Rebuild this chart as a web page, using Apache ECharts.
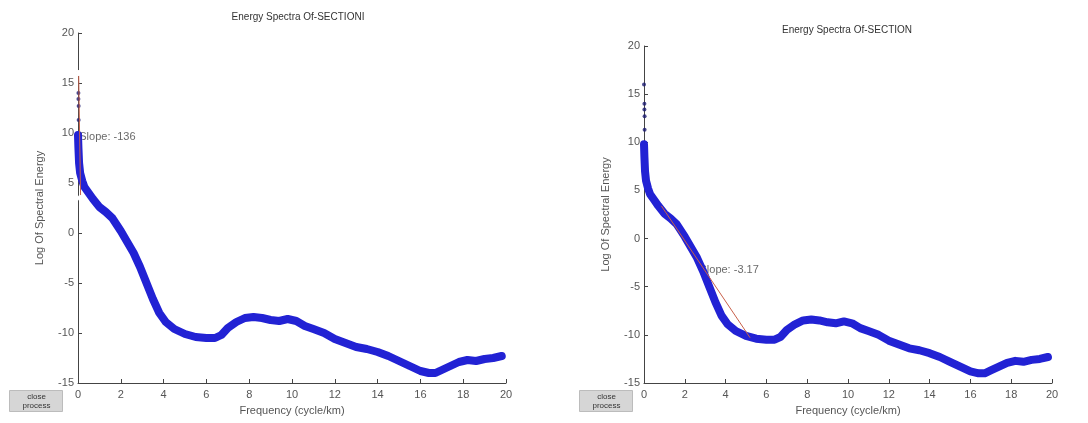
<!DOCTYPE html>
<html>
<head>
<meta charset="utf-8">
<script src="https://cdn.jsdelivr.net/npm/echarts@6/dist/echarts.min.js"></script>
<style>
  html, body { margin: 0; padding: 0; background: #fff; }
  #main { width: 1088px; height: 423px; }
</style>
</head>
<body>
<div id="main"></div>
<script>
// spectrum (same curve in both panels)
var freq = [0, 0.02, 0.05, 0.1, 0.2, 0.3, 0.5, 0.7, 1.0, 1.3, 1.6, 2.0, 2.3, 2.6, 2.9, 3.2, 3.5, 3.8, 4.1, 4.5,
            5.0, 5.5, 6.0, 6.4, 6.7, 7.0, 7.4, 7.8, 8.2, 8.6, 9.0, 9.4, 9.8, 10.2, 10.6, 11.0, 11.5, 12.0, 12.5, 13.0,
            13.5, 14.0, 14.5, 15.0, 15.5, 16.0, 16.4, 16.7, 17.0, 17.4, 17.8, 18.2, 18.6, 19.0, 19.4, 19.8];
var energy = [9.8, 8.5, 7.0, 6.0, 5.2, 4.6, 4.0, 3.4, 2.6, 2.1, 1.5, 0.2, -0.9, -2.0, -3.4, -5.0, -6.6, -8.0, -8.9, -9.6,
              -10.1, -10.4, -10.5, -10.5, -10.2, -9.5, -8.9, -8.5, -8.4, -8.5, -8.7, -8.8, -8.6, -8.8, -9.3, -9.6, -10.0, -10.6, -11.0, -11.4,
              -11.6, -11.9, -12.3, -12.8, -13.3, -13.8, -14.0, -14.0, -13.7, -13.3, -12.9, -12.7, -12.8, -12.6, -12.5, -12.3];
// sparse low-frequency points above the curve
var spikeFreq = [0.0, 0.02, 0.02, 0.03, 0.03];
var spikeEnergy = [16.0, 14.0, 13.4, 12.7, 11.3];

// fitted slope segments
var fit1Freq = [0.03, 0.122];
var fit1Energy = [16.0, 3.5];
var fit2Freq = [0.85, 5.2];
var fit2Energy = [3.4, -10.3];

var titles = ['Energy Spectra Of-SECTIONI', 'Energy Spectra Of-SECTION'];
var slopeText = ['Slope: -136', 'Slope: -3.17'];
var slopeAt = [[0.06, 9.6], [2.72, -3.3]];

var xTicks = { min: 0, max: 20, interval: 2 };
var yTicks = { min: -15, max: 20, interval: 5 };

function pairs(xs, ys) {
    return xs.map(function (x, i) { return [x, ys[i]]; });
}

var myChart = echarts.init(document.getElementById('main'));

var grids = [
    { left: 78, top: 33, width: 428, height: 350 },
    { left: 644, top: 46, width: 408, height: 337 }
];
var axisColor = '#444';
var labelStyle = { color: '#555', fontSize: 11, fontFamily: 'Liberation Sans, Arial, sans-serif' };

var xAxes = [], yAxes = [], series = [];
grids.forEach(function (g, k) {
    xAxes.push({
        gridIndex: k, type: 'value', min: xTicks.min, max: xTicks.max, interval: xTicks.interval,
        name: 'Frequency (cycle/km)', nameLocation: 'middle', nameGap: 22,
        nameTextStyle: labelStyle,
        axisLine: { onZero: false, lineStyle: { color: axisColor, width: 1 } },
        axisTick: { inside: true, length: 4, lineStyle: { color: axisColor } },
        axisLabel: Object.assign({ margin: 6 }, labelStyle),
        splitLine: { show: false }
    });
    yAxes.push({
        gridIndex: k, type: 'value', min: yTicks.min, max: yTicks.max, interval: yTicks.interval,
        name: 'Log Of Spectral Energy', nameLocation: 'middle', nameGap: 33, nameRotate: 90,
        nameTextStyle: labelStyle,
        axisLine: { show: true, onZero: false, lineStyle: { color: axisColor, width: 1 } },
        axisTick: { show: true, inside: true, length: 4, lineStyle: { color: axisColor } },
        axisLabel: Object.assign({ margin: 4 }, labelStyle),
        splitLine: { show: false }
    });
    // annotation text, drawn beneath the curve
    series.push({
        type: 'scatter', xAxisIndex: k, yAxisIndex: k, z: 1, symbolSize: 0, silent: true,
        data: [slopeAt[k]],
        label: {
            show: true, position: 'right', distance: 0,
            formatter: slopeText[k], color: '#444', fontSize: 11,
            fontFamily: 'Liberation Sans, Arial, sans-serif'
        }
    });
    series.push({
        type: 'line', xAxisIndex: k, yAxisIndex: k, z: 3, showSymbol: false, silent: true,
        data: pairs(freq, energy),
        lineStyle: { color: '#2222d4', width: 8, cap: 'round', join: 'round' }
    });
    series.push({
        type: 'scatter', xAxisIndex: k, yAxisIndex: k, z: 4, symbolSize: 4, silent: true,
        data: pairs(spikeFreq, spikeEnergy),
        itemStyle: { color: '#1c1c70' }
    });
    var fx = k === 0 ? fit1Freq : fit2Freq;
    var fy = k === 0 ? fit1Energy : fit2Energy;
    series.push({
        type: 'line', xAxisIndex: k, yAxisIndex: k, z: 5, silent: true,
        data: pairs(fx, fy),
        symbol: k === 0 ? 'emptyCircle' : 'none', symbolSize: 6, showSymbol: k === 0,
        lineStyle: { color: '#c8604a', width: 1 },
        itemStyle: { color: 'rgba(255,255,255,0)', borderColor: '#d05a4a', borderWidth: 1 }
    });
});

function button(x, y) {
    return {
        type: 'group', left: x, top: y,
        children: [
            { type: 'rect', shape: { x: 0, y: 0, width: 53, height: 21 },
              style: { fill: '#d6d6d6', stroke: '#bcbcbc', lineWidth: 1 } },
            { type: 'text', style: { x: 27, y: 2, text: 'close', textAlign: 'center', fontSize: 8, fill: '#333' } },
            { type: 'text', style: { x: 27, y: 11, text: 'process', textAlign: 'center', fontSize: 8, fill: '#333' } }
        ]
    };
}

myChart.setOption({
    animation: false,
    grid: grids,
    xAxis: xAxes,
    yAxis: yAxes,
    series: series,
    graphic: [
        { type: 'text', x: 298, y: 12, style: { text: titles[0], textAlign: 'center', fontSize: 10, fill: '#333',
          fontFamily: 'Liberation Sans, Arial, sans-serif' } },
        { type: 'text', x: 847, y: 25, style: { text: titles[1], textAlign: 'center', fontSize: 10, fill: '#333',
          fontFamily: 'Liberation Sans, Arial, sans-serif' } },
        button(9, 390),
        button(579, 390)
    ]
});
</script>
</body>
</html>
